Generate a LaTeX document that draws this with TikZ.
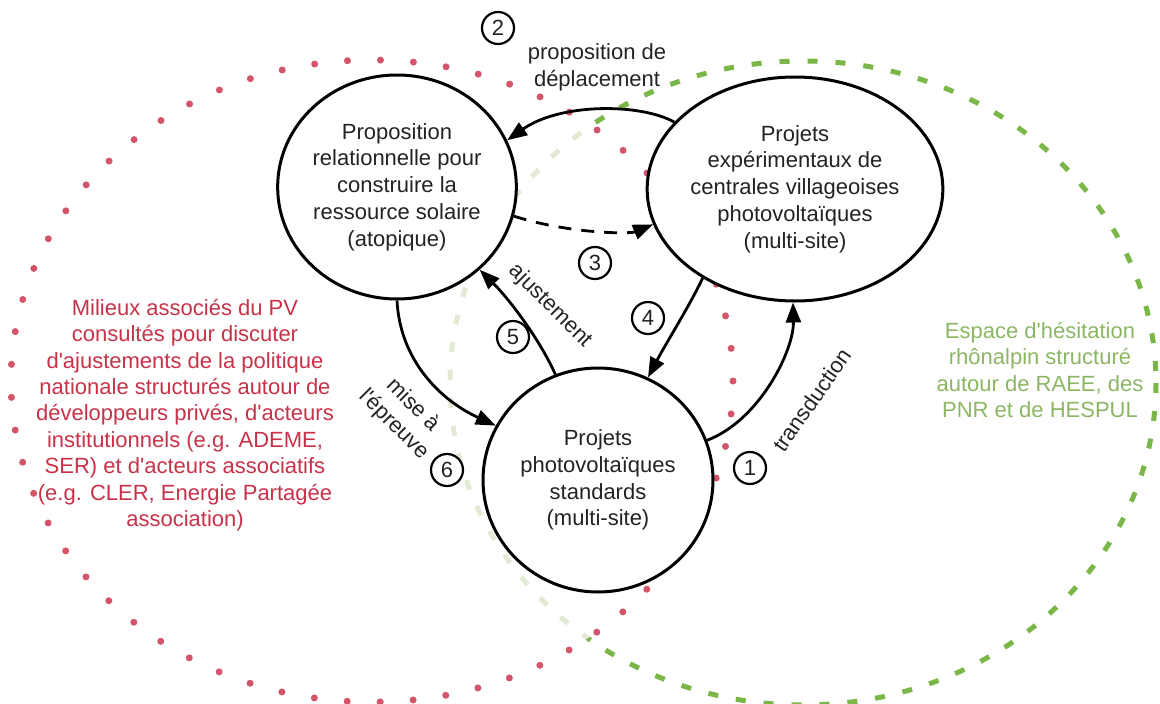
\documentclass[tikz,border=0pt]{standalone}
\usepackage{fontspec}
\setmainfont{Liberation Sans}[Ligatures=TeXOff]
\usetikzlibrary{arrows.meta,shapes.geometric}
\definecolor{txt}{RGB}{35,35,35}
\definecolor{redtxt}{RGB}{200,50,72}
\definecolor{reddot}{RGB}{212,85,105}
\definecolor{greendash}{RGB}{122,182,72}
\definecolor{greentxt}{RGB}{140,182,100}
\definecolor{greenpale}{RGB}{226,234,212}
\begin{document}
\begin{tikzpicture}[x=1pt,y=-1pt,
  bigc/.style={ellipse,draw=black,line width=3pt,fill=white,minimum width=230pt,minimum height=224pt,inner sep=0pt,align=center,text=txt,font=\fontsize{22}{26.75}\selectfont},
  numc/.style={circle,draw=black,line width=2.2pt,fill=white,minimum size=32pt,inner sep=0pt,font=\fontsize{22}{24}\selectfont,text=txt},
  conn/.style={line width=2.8pt,-{Triangle[length=20pt,width=15pt]}},
  lbl/.style={text=txt,font=\fontsize{22}{27}\selectfont,align=center,inner sep=0pt},
  reddots/.style={reddot,line width=7pt,line cap=round,dash pattern=on 0pt off 33pt},
  greendashes/.style={line width=5pt,dash pattern=on 10pt off 18pt}]
\useasboundingbox (0,0) rectangle (1160,704);
% green ellipse: pale inside red ellipse, vivid outside
\begin{scope}
  \clip (372,381) ellipse [x radius=361,y radius=321];
  \draw[greendashes,greenpale] (803,383) ellipse [x radius=353,y radius=322];
\end{scope}
\begin{scope}[even odd rule]
  \clip (-10,-10) rectangle (1170,714) (372,381) ellipse [x radius=361,y radius=321];
  \draw[greendashes,greendash] (803,383) ellipse [x radius=353,y radius=322];
\end{scope}
% red dotted ellipse
\draw[reddots] (372,381) ellipse [x radius=361,y radius=321];
% region texts
\node[text=redtxt,font=\fontsize{22}{26.4}\selectfont,align=center] (redlbl) at (185,415) {Milieux associés du PV\\consultés pour discuter\\d'ajustements de la politique\\nationale structurés autour de\\développeurs privés, d'acteurs\\institutionnels (e.g. ADEME,\\SER) et d'acteurs associatifs\\(e.g. CLER, Energie Partagée\\association)};
\node[text=greentxt,font=\fontsize{22}{26.4}\selectfont,align=center] (greenlbl) at (1040,370) {Espace d'hésitation\\rhônalpin structuré\\autour de RAEE, des\\PNR et de HESPUL};
% main nodes
\node[bigc] (L) at (397,187) {Proposition\\relationnelle pour\\construire la\\ressource solaire\\(atopique)};
\node[bigc] (R) at (795,189) {Projets\\expérimentaux de\\centrales villageoises\\photovoltaïques\\(multi-site)};
\node[bigc] (B) at (598,480) {Projets\\photovoltaïques\\standards\\(multi-site)};
% connectors
\draw[conn] (R.151) .. controls (640,103) and (560,103) .. (L.23);
\draw[conn,dash pattern=on 13pt off 10pt] (L.-14) .. controls (570,234) and (630,234) .. (R.194);
\draw[conn] (R.224) .. controls (690,305) and (665,345) .. (B.64);
\draw[conn] (B.20) .. controls (760,420) and (794,350) .. (R.269);
\draw[conn] (B.112) .. controls (540,340) and (510,300) .. (L.-45);
\draw[conn] (L.-90) .. controls (400,360) and (440,400) .. (B.152);
% labels
\node[lbl] (lblA) at (597,67) {proposition de\\déplacement};
\node[lbl,rotate=-45] (lbl5) at (550,306) {ajustement};
\node[lbl,rotate=-45] (lbl6) at (403,415) {mise à\\l'épreuve};
\node[lbl,rotate=55] (lbl1) at (812,400) {transduction};
% numbers
\node[numc] (n1) at (750,468) {1};
\node[numc] (n2) at (498,28) {2};
\node[numc] (n3) at (595,263) {3};
\node[numc] (n4) at (648,318) {4};
\node[numc] (n5) at (513,337) {5};
\node[numc] (n6) at (447,470) {6};
\end{tikzpicture}
\end{document}
